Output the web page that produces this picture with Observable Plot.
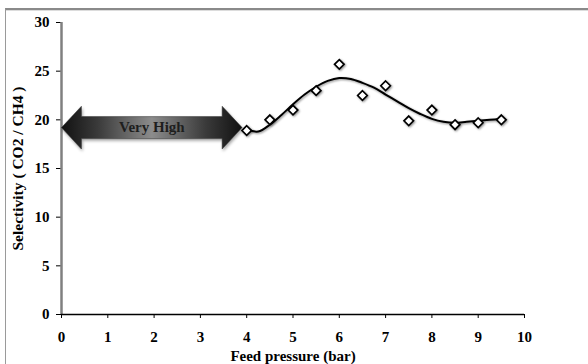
<!DOCTYPE html>
<html>
<head>
<meta charset="utf-8">
<script src="https://cdn.jsdelivr.net/npm/d3@7"></script>
<script src="https://cdn.jsdelivr.net/npm/@observablehq/plot@0.6"></script>
<style>
  html, body { margin: 0; padding: 0; background: #fff; }
  #wrap { position: relative; width: 588px; height: 364px; overflow: hidden; }
  #border { position: absolute; left: 5px; top: 8px; width: 700px; height: 500px;
            border-top: 2px solid #8a8a8a; border-left: 1.5px solid #9a9a9a; box-shadow: inset 0 1px 0 #dcdcdc; }
  #chart { position: absolute; left: 0; top: 0; }
  #chart g[aria-label="dot"], #chart .fit { filter: drop-shadow(1px 1.5px 1px rgba(0,0,0,0.45)); }
  #chart .arrow { filter: drop-shadow(1px 2px 1.5px rgba(0,0,0,0.35)); }
</style>
</head>
<body>
<div id="wrap"><div id="border"></div><div id="chart"></div></div>
<script>
// Measured points: feed pressure (bar) vs selectivity CO2/CH4
const pressure    = [4, 4.5, 5, 5.5, 6, 6.5, 7, 7.5, 8, 8.5, 9, 9.5];
const selectivity = [18.9, 20.0, 21.0, 23.0, 25.7, 22.5, 23.5, 19.9, 21.0, 19.5, 19.7, 20.0];

// Smooth trend curve
const fitX = [4.0, 4.25, 4.5, 4.75, 5.0, 5.25, 5.5, 5.75, 6.0, 6.25, 6.5, 6.75, 7.0, 7.25, 7.5, 7.75, 8.0, 8.25, 8.5, 8.75, 9.0, 9.25, 9.5];
const fitY = [19.0, 18.8, 19.5, 20.5, 21.6, 22.6, 23.4, 24.0, 24.3, 24.2, 23.8, 23.3, 22.6, 21.9, 21.2, 20.6, 20.1, 19.8, 19.7, 19.8, 19.9, 20.0, 20.1];

// Annotation: double arrow "Very High" spanning pressure range at a selectivity level
const arrowLabel = ["Very High"];
const arrowSpan = [0, 3.9];
const arrowLevel = [19.2];

const xTicks = [0, 1, 2, 3, 4, 5, 6, 7, 8, 9, 10];
const yTicks = [0, 5, 10, 15, 20, 25, 30];
const xTitle = ["Feed pressure (bar)"];
const yTitle = ["Selectivity ( CO2 / CH4 )"];

const points = pressure.map((p, i) => ({x: p, y: selectivity[i]}));
const fit = fitX.map((p, i) => ({x: p, y: fitY[i]}));

// arrow polygon derived from the annotation span
const [ax0, ax1] = arrowSpan, ay = arrowLevel[0];
const hl = 0.43, sh = 1.13, hh = 2.2;
const arrowPoly = [
  [ax0, ay], [ax0 + hl, ay + hh], [ax0 + hl, ay + sh], [ax1 - hl, ay + sh], [ax1 - hl, ay + hh],
  [ax1, ay], [ax1 - hl, ay - hh], [ax1 - hl, ay - sh], [ax0 + hl, ay - sh], [ax0 + hl, ay - hh], [ax0, ay]
].map(([x, y]) => ({x, y}));

const font = "'Liberation Serif', 'Times New Roman', serif";

const plot = Plot.plot({
  width: 588,
  height: 364,
  marginLeft: 61,
  marginRight: 64,
  marginTop: 22,
  marginBottom: 50,
  style: {fontFamily: font, fontWeight: "bold", fontSize: "15px", color: "#000", background: "transparent"},
  x: {domain: [0, 10]},
  y: {domain: [0, 30]},
  marks: [
    Plot.axisY({ticks: yTicks, tickSize: 5, tickPadding: 7, label: null, tickFormat: d => d, fontSize: 15, fontWeight: "bold", fontFamily: font}),
    Plot.axisX({ticks: xTicks, tickSize: 4, tickPadding: 13, label: null, tickFormat: d => d, fontSize: 15, fontWeight: "bold", fontFamily: font}),
    Plot.ruleX([0], {stroke: "#808080", strokeWidth: 2.5}),
    Plot.ruleY([0], {stroke: "#000", strokeWidth: 1.6}),
    Plot.line(arrowPoly, {x: "x", y: "y", fill: "url(#arrowGrad)", stroke: "#333", strokeWidth: 0.5, curve: "linear", className: "arrow"}),
    Plot.text(arrowLabel, {x: (ax0 + ax1) / 2, y: ay, text: d => d, fill: "#1e1e1e", fontSize: 15, fontWeight: "bold", fontFamily: font}),
    Plot.line(fit, {x: "x", y: "y", stroke: "#000", strokeWidth: 2, curve: "catmull-rom", className: "fit"}),
    Plot.dot(points, {x: "x", y: "y", symbol: "diamond2", r: 4.3, fill: "#fff", stroke: "#000", strokeWidth: 1.7}),
    Plot.text(xTitle, {frameAnchor: "bottom", dy: 46, text: d => d, fontSize: 15, fontWeight: "bold", fontFamily: font, fill: "#000"}),
    Plot.text(yTitle, {frameAnchor: "left", textAnchor: "middle", dx: -43, rotate: -90, text: d => d, fontSize: 15.5, fontWeight: "bold", fontFamily: font, fill: "#000"})
  ]
});

// gradient definition for the arrow
const ns = "http://www.w3.org/2000/svg";
const defs = document.createElementNS(ns, "defs");
defs.innerHTML = `
  <linearGradient id="arrowGrad" x1="0" x2="1" y1="0" y2="0">
    <stop offset="0%" stop-color="#111"/>
    <stop offset="20%" stop-color="#3a3a3a"/>
    <stop offset="50%" stop-color="#8c8c8c"/>
    <stop offset="80%" stop-color="#3a3a3a"/>
    <stop offset="100%" stop-color="#111"/>
  </linearGradient>`;
plot.insertBefore(defs, plot.firstChild);
document.getElementById("chart").appendChild(plot);
</script>
</body>
</html>
